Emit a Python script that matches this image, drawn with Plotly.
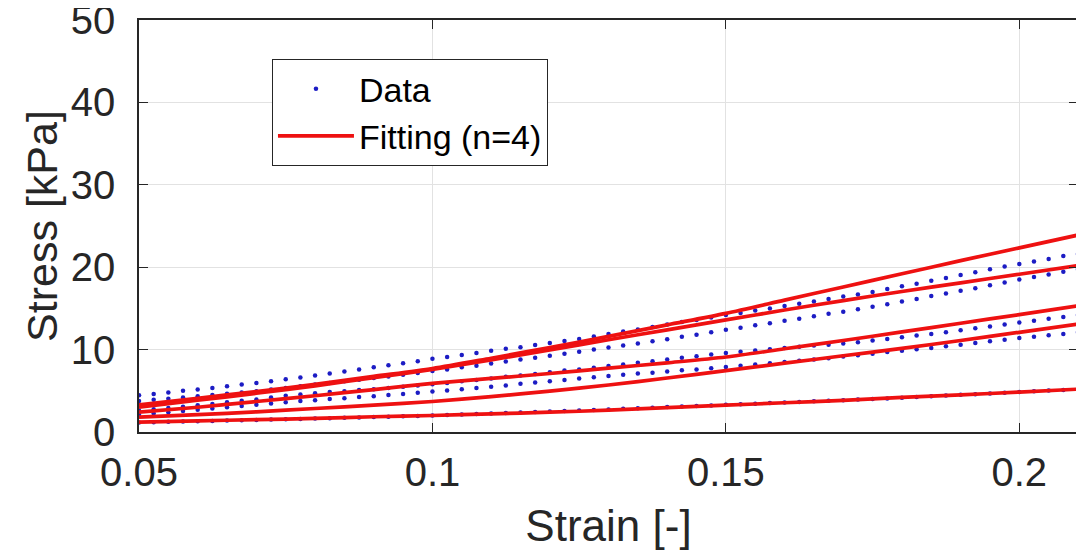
import numpy as np
import plotly.graph_objects as go

# ---------------- data ----------------
strain_data = np.round(np.linspace(0.05, 0.21, 65), 4)

data_a = [4.45, 4.6, 4.8, 5.0, 5.15, 5.35, 5.55, 5.75, 5.95, 6.15, 6.4,
          6.6, 6.85, 7.1, 7.35, 7.6, 7.85, 8.1, 8.35, 8.6, 8.9,
          9.1, 9.35, 9.6, 9.85, 10.1, 10.3, 10.55, 10.8, 11.05, 11.3,
          11.6, 11.9, 12.2, 12.45, 12.75, 13.05, 13.35, 13.6, 13.9, 14.2,
          14.45, 14.75, 15.0, 15.3, 15.55, 15.85, 16.15, 16.45, 16.7, 17.0,
          17.35, 17.7, 18.0, 18.35, 18.7, 19.05, 19.4, 19.75, 20.1, 20.4,
          20.7, 21.0, 21.35, 21.6]
data_b = [3.75, 3.9, 4.05, 4.2, 4.35, 4.5, 4.65, 4.8, 4.95, 5.15, 5.35,
          5.55, 5.75, 5.95, 6.15, 6.35, 6.55, 6.75, 6.95, 7.15, 7.4,
          7.6, 7.85, 8.05, 8.3, 8.55, 8.8, 9.0, 9.25, 9.5, 9.75,
          10.0, 10.25, 10.5, 10.75, 11.0, 11.25, 11.55, 11.8, 12.1, 12.4,
          12.65, 12.95, 13.2, 13.5, 13.75, 14.05, 14.35, 14.6, 14.9, 15.2,
          15.5, 15.85, 16.15, 16.5, 16.8, 17.15, 17.45, 17.8, 18.15, 18.5,
          18.8, 19.1, 19.45, 19.75]
data_c = [2.6, 2.75, 2.9, 3.05, 3.25, 3.4, 3.6, 3.8, 3.95, 4.2, 4.4,
          4.55, 4.7, 4.85, 4.95, 5.1, 5.2, 5.35, 5.5, 5.65, 5.8,
          5.95, 6.15, 6.3, 6.5, 6.7, 6.85, 7.05, 7.25, 7.45, 7.6,
          7.8, 8.0, 8.2, 8.4, 8.6, 8.8, 9.0, 9.2, 9.4, 9.6,
          9.75, 9.9, 10.05, 10.2, 10.35, 10.5, 10.6, 10.75, 10.9, 11.1,
          11.3, 11.5, 11.7, 11.9, 12.1, 12.35, 12.6, 12.8, 13.05, 13.3,
          13.5, 13.75, 13.95, 14.2]
data_d = [2.1, 2.25, 2.4, 2.55, 2.7, 2.85, 3.0, 3.15, 3.3, 3.45, 3.6,
          3.75, 3.85, 4.0, 4.1, 4.25, 4.35, 4.5, 4.6, 4.75, 4.9,
          5.05, 5.2, 5.35, 5.5, 5.65, 5.85, 6.0, 6.15, 6.3, 6.5,
          6.65, 6.8, 6.95, 7.1, 7.2, 7.35, 7.5, 7.6, 7.75, 7.9,
          8.05, 8.2, 8.35, 8.5, 8.65, 8.8, 8.95, 9.15, 9.3, 9.5,
          9.7, 9.85, 10.05, 10.2, 10.4, 10.6, 10.8, 11.0, 11.2, 11.4,
          11.55, 11.75, 11.9, 12.1]
data_e = [1.15, 1.19, 1.23, 1.27, 1.31, 1.35, 1.39, 1.43, 1.47, 1.51, 1.55,
          1.59, 1.64, 1.68, 1.73, 1.77, 1.82, 1.86, 1.91, 1.95, 2.0,
          2.06, 2.12, 2.18, 2.24, 2.3, 2.36, 2.42, 2.48, 2.54, 2.6,
          2.67, 2.74, 2.81, 2.88, 2.95, 3.02, 3.09, 3.16, 3.23, 3.3,
          3.37, 3.44, 3.51, 3.58, 3.65, 3.72, 3.79, 3.86, 3.93, 4.0,
          4.08, 4.17, 4.25, 4.34, 4.42, 4.51, 4.59, 4.68, 4.76, 4.85,
          4.94, 5.03, 5.11, 5.2]

strain_fit = [0.05, 0.06, 0.07, 0.08, 0.09, 0.10, 0.11, 0.12, 0.13,
              0.14, 0.15, 0.16, 0.17, 0.18, 0.19, 0.20, 0.21]
fit_1 = [3.3, 4.1, 4.9, 5.8, 6.75, 7.7, 8.95, 10.25, 11.6, 13.0, 14.4,
         16.0, 17.6, 19.2, 20.8, 22.35, 23.9]
fit_2 = [3.0, 3.85, 4.7, 5.6, 6.6, 7.6, 8.75, 9.95, 11.2, 12.4, 13.6,
         14.8, 15.95, 17.05, 18.1, 19.15, 20.2]
fit_3 = [2.4, 3.0, 3.7, 4.4, 5.15, 5.9, 6.5, 7.1, 7.75, 8.4, 9.1,
         10.1, 11.1, 12.15, 13.2, 14.25, 15.3]
fit_4 = [1.8, 2.1, 2.45, 2.85, 3.25, 3.7, 4.3, 4.95, 5.7, 6.55, 7.45,
         8.35, 9.25, 10.15, 11.1, 12.1, 13.1]
fit_5 = [1.2, 1.35, 1.5, 1.65, 1.85, 2.0, 2.2, 2.4, 2.65, 2.95, 3.25,
         3.55, 3.85, 4.2, 4.5, 4.85, 5.2]

x_ticks = [0.05, 0.1, 0.15, 0.2]
x_tick_labels = ["0.05", "0.1", "0.15", "0.2"]
y_ticks = [0, 10, 20, 30, 40, 50]
y_tick_labels = ["0", "10", "20", "30", "40", "50"]

# ---------------- styles ----------------
DOT_COLOR = "#1c1cc4"
FIT_COLOR = "#ee1111"
AXIS_COLOR = "#262626"
FONT = "Liberation Sans, Arial, sans-serif"

fig = go.Figure()

for i, ys in enumerate([data_a, data_b, data_c, data_d, data_e]):
    fig.add_trace(go.Scatter(
        x=strain_data, y=ys, mode="markers",
        marker=dict(color=DOT_COLOR, size=4.5),
        name="Data", legendgroup="data", showlegend=(i == 0),
    ))

for i, ys in enumerate([fit_1, fit_2, fit_3, fit_4, fit_5]):
    fig.add_trace(go.Scatter(
        x=strain_fit, y=ys, mode="lines",
        line=dict(color=FIT_COLOR, width=3.7, shape="spline", smoothing=0.8),
        name="Fitting (n=4)", legendgroup="fit", showlegend=(i == 0),
    ))

axis_common = dict(
    showline=True, linecolor=AXIS_COLOR, linewidth=1.5, mirror="ticks",
    ticks="inside", ticklen=9, tickwidth=1.2, tickcolor=AXIS_COLOR,
    showgrid=True, gridcolor="#e2e2e2", gridwidth=1, zeroline=False,
    tickfont=dict(family=FONT, size=40, color=AXIS_COLOR),
    automargin=False, ticklabeloverflow="allow",
)

fig.update_xaxes(
    range=[0.05, 0.21], tickvals=x_ticks, ticktext=x_tick_labels,
    title=dict(text="Strain [-]", font=dict(family=FONT, size=44, color=AXIS_COLOR), standoff=17),
    ticklabelstandoff=4,
    **axis_common,
)
fig.update_yaxes(
    range=[0, 50.001], tickvals=y_ticks, ticktext=y_tick_labels,
    title=dict(text="Stress [kPa]", font=dict(family=FONT, size=43, color=AXIS_COLOR), standoff=0),
    ticklabelstandoff=14,
    **axis_common,
)

# the page body adds an 8px offset, so the figure is sized/margined to compensate
fig.update_layout(
    width=1076, height=543,
    margin=dict(l=131, r=6, t=12, b=119),
    paper_bgcolor="white", plot_bgcolor="white",
    font=dict(family=FONT, color=AXIS_COLOR),
    legend=dict(
        x=0.1416, y=0.905, xanchor="left", yanchor="top",
        bgcolor="white", bordercolor=AXIS_COLOR, borderwidth=1,
        font=dict(family=FONT, size=34, color="black"),
        itemwidth=76, tracegroupgap=0,
    ),
    showlegend=True,
)

fig.write_html("out.html")
